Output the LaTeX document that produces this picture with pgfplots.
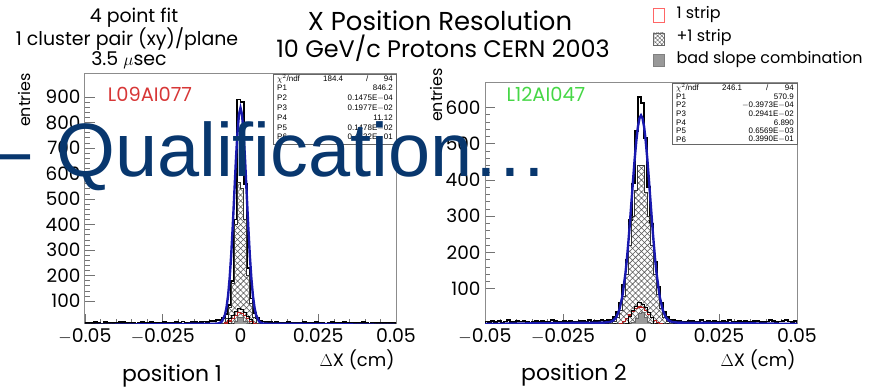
\documentclass[border=0pt]{standalone}
\usepackage{fontspec}
\setmainfont{Poppins}
\newfontfamily\arialfont{Liberation Sans}
\usepackage{pgfplots}
\pgfplotsset{compat=1.18}
\usepackage{pgfplotstable}
\usetikzlibrary{patterns,patterns.meta}
\definecolor{navy}{RGB}{8,55,110}
\definecolor{fitblue}{RGB}{25,25,175}
\definecolor{lblred}{RGB}{215,55,55}
\definecolor{lblgreen}{RGB}{70,215,70}
\definecolor{histred}{RGB}{175,30,30}
\newcommand\fs[1]{\fontsize{#1}{#1}\selectfont}

% left panel: bin left edges, total, +1 strip, 1 strip, small black, bad slope
\pgfplotstableread{
e tot hat red blk gry
-0.050 14 0 nan nan 0
-0.049 16 0 nan nan 0
-0.048 13 0 nan nan 0
-0.047 17 0 nan nan 0
-0.046 15 0 nan nan 0
-0.045 12 0 nan nan 0
-0.044 18 0 nan nan 0
-0.043 14 0 nan nan 0
-0.042 16 0 nan nan 0
-0.041 15 0 nan nan 0
-0.040 13 0 nan nan 0
-0.039 17 0 nan nan 0
-0.038 19 0 nan nan 0
-0.037 14 0 nan nan 0
-0.036 15 0 nan nan 0
-0.035 16 0 nan nan 0
-0.034 12 0 nan nan 0
-0.033 15 0 nan nan 0
-0.032 17 0 nan nan 0
-0.031 14 0 nan nan 0
-0.030 13 0 nan nan 0
-0.029 18 0 nan nan 0
-0.028 16 0 nan nan 0
-0.027 15 0 nan nan 0
-0.026 14 0 nan nan 0
-0.025 17 0 nan nan 0
-0.024 13 0 nan nan 0
-0.023 16 0 nan nan 0
-0.022 15 0 nan nan 0
-0.021 18 0 nan nan 0
-0.020 14 0 nan nan 0
-0.019 20 0 nan nan 0
-0.018 16 0 nan nan 0
-0.017 15 0 nan nan 0
-0.016 17 0 nan nan 0
-0.015 19 0 nan nan 0
-0.014 16 0 nan nan 0
-0.013 18 0 nan nan 0
-0.012 20 0 nan nan 0
-0.011 17 0 nan nan 0
-0.010 21 0 nan nan 0
-0.009 22 0 nan nan 0
-0.008 25 3 3 nan 0
-0.007 26 6 5 nan 0
-0.006 32 12 8 nan 0
-0.005 48 30 14 3 0
-0.004 85 75 22 30 0
-0.003 180 170 32 45 10
-0.002 420 400 44 58 22
-0.001 890 565 55 72 38
0.000 880 540 52 68 35
0.001 560 420 42 55 20
0.002 230 200 30 40 9
0.003 110 90 20 28 0
0.004 52 35 12 3 0
0.005 32 14 7 nan 0
0.006 24 6 4 nan 0
0.007 20 3 3 nan 0
0.008 19 0 nan nan 0
0.009 17 0 nan nan 0
0.010 16 0 nan nan 0
0.011 18 0 nan nan 0
0.012 15 0 nan nan 0
0.013 14 0 nan nan 0
0.014 16 0 nan nan 0
0.015 17 0 nan nan 0
0.016 13 0 nan nan 0
0.017 15 0 nan nan 0
0.018 16 0 nan nan 0
0.019 14 0 nan nan 0
0.020 18 0 nan nan 0
0.021 15 0 nan nan 0
0.022 13 0 nan nan 0
0.023 16 0 nan nan 0
0.024 17 0 nan nan 0
0.025 14 0 nan nan 0
0.026 15 0 nan nan 0
0.027 12 0 nan nan 0
0.028 16 0 nan nan 0
0.029 18 0 nan nan 0
0.030 14 0 nan nan 0
0.031 15 0 nan nan 0
0.032 13 0 nan nan 0
0.033 17 0 nan nan 0
0.034 15 0 nan nan 0
0.035 14 0 nan nan 0
0.036 16 0 nan nan 0
0.037 13 0 nan nan 0
0.038 15 0 nan nan 0
0.039 17 0 nan nan 0
0.040 14 0 nan nan 0
0.041 12 0 nan nan 0
0.042 16 0 nan nan 0
0.043 15 0 nan nan 0
0.044 13 0 nan nan 0
0.045 14 0 nan nan 0
0.046 16 0 nan nan 0
0.047 15 0 nan nan 0
0.048 13 0 nan nan 0
0.049 14 0 nan nan 0
0.050 14 0 nan nan 0
}\leftdata

\pgfplotstableread{
e tot hat red blk gry
-0.050 10 0 nan nan 0
-0.049 8 0 nan nan 0
-0.048 12 0 nan nan 0
-0.047 9 0 nan nan 0
-0.046 11 0 nan nan 0
-0.045 7 0 nan nan 0
-0.044 10 0 nan nan 0
-0.043 13 0 nan nan 0
-0.042 9 0 nan nan 0
-0.041 8 0 nan nan 0
-0.040 11 0 nan nan 0
-0.039 10 0 nan nan 0
-0.038 12 0 nan nan 0
-0.037 9 0 nan nan 0
-0.036 7 0 nan nan 0
-0.035 10 0 nan nan 0
-0.034 11 0 nan nan 0
-0.033 8 0 nan nan 0
-0.032 12 0 nan nan 0
-0.031 10 0 nan nan 0
-0.030 9 0 nan nan 0
-0.029 13 0 nan nan 0
-0.028 11 0 nan nan 0
-0.027 8 0 nan nan 0
-0.026 10 0 nan nan 0
-0.025 12 0 nan nan 0
-0.024 9 0 nan nan 0
-0.023 11 0 nan nan 0
-0.022 10 0 nan nan 0
-0.021 8 0 nan nan 0
-0.020 12 0 nan nan 0
-0.019 11 0 nan nan 0
-0.018 9 0 nan nan 0
-0.017 13 0 nan nan 0
-0.016 10 0 nan nan 0
-0.015 12 0 nan nan 0
-0.014 11 0 nan nan 0
-0.013 14 0 nan nan 0
-0.012 12 0 nan nan 0
-0.011 13 0 nan nan 0
-0.010 15 4 nan nan 0
-0.009 22 10 nan nan 0
-0.008 35 20 -5 nan 0
-0.007 60 40 5 nan 0
-0.006 110 80 10 nan 0
-0.005 180 140 18 -5 0
-0.004 290 220 28 25 0
-0.003 390 300 38 40 8
-0.002 535 370 46 52 20
-0.001 628 440 50 62 33
0.000 612 440 48 58 35
0.001 515 365 40 48 22
0.002 380 300 30 35 9
0.003 280 220 20 22 0
0.004 175 140 12 -5 0
0.005 105 85 7 nan 0
0.006 60 45 4 nan 0
0.007 35 22 -5 nan 0
0.008 22 10 nan nan 0
0.009 15 4 nan nan 0
0.010 13 0 nan nan 0
0.011 11 0 nan nan 0
0.012 12 0 nan nan 0
0.013 10 0 nan nan 0
0.014 9 0 nan nan 0
0.015 12 0 nan nan 0
0.016 11 0 nan nan 0
0.017 8 0 nan nan 0
0.018 10 0 nan nan 0
0.019 13 0 nan nan 0
0.020 9 0 nan nan 0
0.021 11 0 nan nan 0
0.022 10 0 nan nan 0
0.023 12 0 nan nan 0
0.024 8 0 nan nan 0
0.025 9 0 nan nan 0
0.026 11 0 nan nan 0
0.027 10 0 nan nan 0
0.028 13 0 nan nan 0
0.029 9 0 nan nan 0
0.030 10 0 nan nan 0
0.031 12 0 nan nan 0
0.032 8 0 nan nan 0
0.033 11 0 nan nan 0
0.034 9 0 nan nan 0
0.035 10 0 nan nan 0
0.036 12 0 nan nan 0
0.037 11 0 nan nan 0
0.038 9 0 nan nan 0
0.039 8 0 nan nan 0
0.040 10 0 nan nan 0
0.041 13 0 nan nan 0
0.042 11 0 nan nan 0
0.043 9 0 nan nan 0
0.044 10 0 nan nan 0
0.045 12 0 nan nan 0
0.046 14 0 nan nan 0
0.047 10 0 nan nan 0
0.048 9 0 nan nan 0
0.049 11 0 nan nan 0
0.050 11 0 nan nan 0
}\rightdata

\pgfplotsset{
  rootaxis/.style={
    scale only axis, anchor=south west, clip=true,
    unbounded coords=jump,
    xmin=-0.05, xmax=0.05,
    xtick={-0.05,-0.025,0,0.025,0.05},
    xticklabels={{$-$0.05},{$-$0.025},0,0.025,0.05},
    minor x tick num=4, minor y tick num=4,
    xtick pos=left, ytick pos=left, tick align=inside,
    major tick length=10bp, minor tick length=5bp,
    every tick/.style={black!55, line width=0.6bp},
    axis line style={black!45, line width=1bp},
    yticklabel style={font=\fs{18.5}, xshift=-1bp},
    xticklabel style={font=\fs{19}, yshift=-1bp},
    /pgf/number format/assume math mode=true,
    scaled ticks=false,
  },
  histtot/.style={const plot mark left, draw=black, line width=1.8bp, fill=white},
  histhat/.style={const plot mark left, draw=black!80, line width=0.9bp,
    pattern={Hatch[angle=45,distance=4.2bp,line width=0.55bp]}, pattern color=black!65},
  histgry/.style={const plot mark left, draw=black!60, line width=0.4bp, fill=black!40},
  histred/.style={const plot mark left, draw=histred, line width=1.2bp},
  histblk/.style={const plot mark left, draw=black, line width=1bp},
  fitline/.style={draw=fitblue, line width=2.4bp},
}

\begin{document}
\begin{tikzpicture}
\path[use as bounding box] (0,0) rectangle (871bp,388bp);

% ---------------- left panel ----------------
\begin{axis}[rootaxis, at={(85bp,64bp)}, width=311bp, height=250bp,
  ymin=10, ymax=990, ytick={100,200,...,900}]
\addplot[histtot] table[x=e,y=tot]{\leftdata} \closedcycle;
\addplot[histhat] table[x=e,y=hat]{\leftdata} \closedcycle;
\addplot[histgry] table[x=e,y=gry]{\leftdata} \closedcycle;
\addplot[histred] table[x=e,y=red]{\leftdata};
\addplot[histblk] table[x=e,y=blk]{\leftdata};
\addplot[fitline] coordinates {
(-0.05,5.8) (-0.04,7.3) (-0.03,8.7) (-0.02,9.9) (-0.01,10.8) (-0.008,11.2)
(-0.007,12.5) (-0.006,19.4) (-0.005,45.5) (-0.0045,74.5) (-0.004,120.3)
(-0.0035,187.6) (-0.003,278.6) (-0.0025,391.5) (-0.002,518.4) (-0.0015,645.7)
(-0.001,755.7) (-0.0005,830.7) (0,857.3) (0.0005,830.7) (0.001,755.7)
(0.0015,645.7) (0.002,518.4) (0.0025,391.5) (0.003,278.6) (0.0035,187.6)
(0.004,120.3) (0.0045,74.5) (0.005,45.5) (0.006,19.4) (0.007,12.5)
(0.008,11.3) (0.01,10.9) (0.02,10.2) (0.03,9.1) (0.04,7.7) (0.05,6.2)};
\end{axis}

% ---------------- right panel ----------------
\begin{axis}[rootaxis, at={(485bp,64bp)}, width=312bp, height=241bp,
  ymin=3, ymax=667, ytick={100,200,...,600}]
\addplot[histtot] table[x=e,y=tot]{\rightdata} \closedcycle;
\addplot[histhat] table[x=e,y=hat]{\rightdata} \closedcycle;
\addplot[histgry] table[x=e,y=gry]{\rightdata} \closedcycle;
\addplot[histred] table[x=e,y=red]{\rightdata};
\addplot[histblk] table[x=e,y=blk]{\rightdata};
\addplot[fitline] coordinates {
(-0.05,3.1) (-0.04,4.2) (-0.03,5.2) (-0.02,6.1) (-0.012,6.7) (-0.01,8.5)
(-0.009,12) (-0.008,20.8) (-0.007,40.4) (-0.006,78.1) (-0.005,141.4)
(-0.0045,183.9) (-0.004,233.3) (-0.0035,288.1) (-0.003,346.3) (-0.0025,404.7)
(-0.002,460) (-0.0015,508.2) (-0.001,545.7) (-0.0005,569.6) (0,577.8)
(0.0005,569.6) (0.001,545.7) (0.0015,508.2) (0.002,460) (0.0025,404.7)
(0.003,346.3) (0.0035,288.1) (0.004,233.3) (0.0045,183.9) (0.005,141.4)
(0.006,78.1) (0.007,40.4) (0.008,20.8) (0.009,12) (0.01,8.5) (0.012,6.7)
(0.02,6.1) (0.03,5.2) (0.04,4.2) (0.05,3.2)};
\end{axis}

% ---------------- titles ----------------
\node[font=\fs{19}] at (134bp,370bp) {4 point fit};
\node[font=\fs{19}] at (127bp,349bp) {1 cluster pair (xy)/plane};
\node[font=\fs{19}] at (129bp,328bp) {3.5 $\mu$sec};
\node[font=\fs{26}] at (440bp,367bp) {X Position Resolution};
\node[font=\fs{24}] at (443bp,340bp) {10 GeV/c Protons CERN 2003};

% legend
\draw[draw=red!60, line width=0.5bp, fill=white] (653bp,366bp) rectangle (664bp,380bp);
\draw[draw=black!60, line width=0.5bp, pattern={Hatch[angle=45,distance=3bp,line width=0.4bp]}, pattern color=black!60] (653bp,343bp) rectangle (664bp,355bp);
\draw[draw=black!50, line width=0.5bp, fill=black!40] (653bp,322bp) rectangle (664bp,334bp);
\node[anchor=west, font=\fs{16}] at (673bp,373bp) {1 strip};
\node[anchor=west, font=\fs{16}] at (673bp,350bp) {+1 strip};
\node[anchor=west, font=\fs{16}] at (673bp,328bp) {bad slope combination};

% y labels
\node[rotate=90, font=\fs{16}] at (25bp,288bp) {entries};
\node[rotate=90, font=\fs{16}] at (437bp,293bp) {entries};

% module labels
\node[text=lblred, font=\fs{19.5}] at (150bp,294bp) {L09AI077};
\node[text=lblgreen, font=\fs{19.5}] at (546bp,294bp) {L12AI047};

% x labels
\node[anchor=east, font=\fs{18}] at (398bp,28bp) {$\Delta$X (cm)};
\node[anchor=east, font=\fs{18}] at (799bp,28bp) {$\Delta$X (cm)};
\node[font=\fs{22}] at (172bp,12bp) {position 1};
\node[font=\fs{22}] at (574bp,13bp) {position 2};

% stats boxes
\begin{scope}[every node/.style={inner sep=0, font=\arialfont\fs{8}}]
\draw[black!60, line width=0.6bp, fill=white] (273bp,244bp) rectangle (396bp,314bp);
\node[anchor=west] at (277bp,309bp) {$\chi^2$/ndf};
\node[anchor=west] at (323bp,309bp) {184.4};
\node[anchor=west] at (366bp,309bp) {/};
\node[anchor=east] at (393bp,309bp) {94};
\node[anchor=west] at (277bp,300bp) {P1}; \node[anchor=east] at (393bp,300bp) {846.2};
\node[anchor=west] at (277bp,290bp) {P2}; \node[anchor=east] at (393bp,290bp) {0.1475E$-$04};
\node[anchor=west] at (277bp,280bp) {P3}; \node[anchor=east] at (393bp,280bp) {0.1977E$-$02};
\node[anchor=west] at (277bp,270bp) {P4}; \node[anchor=east] at (393bp,270bp) {11.12};
\node[anchor=west] at (277bp,260bp) {P5}; \node[anchor=east] at (393bp,260bp) {0.1478E$-$02};
\node[anchor=west] at (277bp,251bp) {P6}; \node[anchor=east] at (393bp,251bp) {0.4532E$-$01};

\draw[black!60, line width=0.6bp, fill=white] (672bp,244bp) rectangle (797bp,305bp);
\node[anchor=west] at (676bp,300bp) {$\chi^2$/ndf};
\node[anchor=west] at (722bp,300bp) {246.1};
\node[anchor=west] at (766bp,300bp) {/};
\node[anchor=east] at (794bp,300bp) {94};
\node[anchor=west] at (676bp,291.5bp) {P1}; \node[anchor=east] at (794bp,291.5bp) {570.9};
\node[anchor=west] at (676bp,283bp) {P2}; \node[anchor=east] at (794bp,283bp) {$-$0.3973E$-$04};
\node[anchor=west] at (676bp,274bp) {P3}; \node[anchor=east] at (794bp,274bp) {0.2941E$-$02};
\node[anchor=west] at (676bp,265.5bp) {P4}; \node[anchor=east] at (794bp,265.5bp) {6.890};
\node[anchor=west] at (676bp,257bp) {P5}; \node[anchor=east] at (794bp,257bp) {0.6569E$-$03};
\node[anchor=west] at (676bp,248.5bp) {P6}; \node[anchor=east] at (794bp,248.5bp) {0.3990E$-$01};
\end{scope}

% slide overlay text
\node[anchor=base east, inner sep=0, text=navy, font=\arialfont\fs{76}] at (31bp,211bp) {–};
\node[anchor=base west, inner sep=0, text=navy, font=\arialfont\fs{76}] at (56bp,211bp) {Qualification…};
\end{tikzpicture}
\end{document}
